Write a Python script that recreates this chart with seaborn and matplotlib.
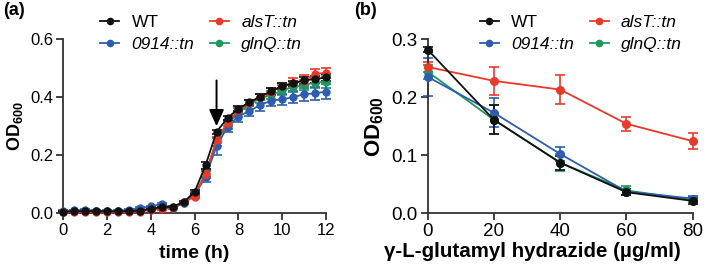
import numpy as np
import pandas as pd
import matplotlib
matplotlib.use("Agg")
import matplotlib.pyplot as plt
import seaborn as sns

# ---- data: growth curves (panel a) ----
time_h = [0, 0.5, 1, 1.5, 2, 2.5, 3, 3.5, 4, 4.5, 5, 5.5, 6, 6.5, 7, 7.5,
          8, 8.5, 9, 9.5, 10, 10.5, 11, 11.5, 12]
wt_a = [0.005, 0.006, 0.007, 0.006, 0.006, 0.006, 0.007, 0.008, 0.015, 0.020,
        0.022, 0.038, 0.073, 0.165, 0.280, 0.328, 0.360, 0.382, 0.402, 0.421,
        0.438, 0.447, 0.458, 0.462, 0.468]
wt_a_err = [0.002] * 12 + [0.006, 0.012, 0.008, 0.008, 0.008, 0.008, 0.008,
                           0.01, 0.01, 0.01, 0.012, 0.012, 0.012]
alsT_a = [0.004, 0.004, 0.003, 0.003, 0.003, 0.003, 0.004, 0.005, 0.011, 0.014,
          0.018, 0.037, 0.057, 0.134, 0.252, 0.312, 0.356, 0.379, 0.400, 0.419,
          0.438, 0.450, 0.457, 0.480, 0.484]
alsT_a_err = [0.002] * 12 + [0.006, 0.012, 0.012, 0.01, 0.01, 0.01, 0.01,
                             0.012, 0.012, 0.015, 0.018, 0.018, 0.018]
mut0914_a = [0.008, 0.009, 0.011, 0.008, 0.008, 0.008, 0.011, 0.017, 0.023,
             0.031, 0.017, 0.034, 0.063, 0.126, 0.230, 0.298, 0.333, 0.352,
             0.373, 0.388, 0.392, 0.400, 0.410, 0.413, 0.419]
mut0914_a_err = [0.003] * 12 + [0.008, 0.02, 0.03, 0.02, 0.018, 0.018, 0.02,
                                0.02, 0.02, 0.022, 0.022, 0.022, 0.025]
glnQ_a = [0.005, 0.006, 0.006, 0.006, 0.006, 0.006, 0.007, 0.008, 0.014,
          0.018, 0.020, 0.035, 0.063, 0.138, 0.247, 0.306, 0.346, 0.375,
          0.396, 0.407, 0.424, 0.434, 0.442, 0.450, 0.453]
glnQ_a_err = [0.002] * 12 + [0.006, 0.015, 0.015, 0.015, 0.015, 0.015, 0.015,
                             0.015, 0.018, 0.018, 0.018, 0.018, 0.02]

# ---- data: inhibitor dose (panel b) ----
dose = [0, 20, 40, 60, 80]
wt_b = [0.282, 0.161, 0.087, 0.036, 0.021]
wt_b_err = [0.004, 0.025, 0.012, 0.005, 0.005]
alsT_b = [0.252, 0.228, 0.213, 0.154, 0.124]
alsT_b_err = [0.008, 0.024, 0.025, 0.012, 0.014]
mut0914_b = [0.235, 0.173, 0.102, 0.037, 0.025]
mut0914_b_err = [0.033, 0.025, 0.012, 0.005, 0.004]
glnQ_b = [0.244, 0.161, 0.087, 0.039, 0.023]
glnQ_b_err = [0.012, 0.025, 0.014, 0.007, 0.004]

strains = ["WT", "0914::tn", "alsT::tn", "glnQ::tn"]
colors = {"WT": "#111111", "0914::tn": "#2e5db0",
          "alsT::tn": "#e8392a", "glnQ::tn": "#1b9a5c"}

plt.rcParams["font.family"] = ["Liberation Sans", "DejaVu Sans"]
plt.rcParams["mathtext.fontset"] = "custom"
plt.rcParams["mathtext.rm"] = "Liberation Sans"
plt.rcParams["mathtext.bf"] = "Liberation Sans:bold"
plt.rcParams["axes.edgecolor"] = "#333333"
plt.rcParams["xtick.color"] = "#333333"
plt.rcParams["ytick.color"] = "#333333"
plt.rcParams["xtick.labelcolor"] = "black"
plt.rcParams["ytick.labelcolor"] = "black"


def make_long(x, series, errs, xname):
    frames = []
    for name in strains:
        frames.append(pd.DataFrame({xname: x, "od": series[name],
                                    "err": errs[name], "strain": name}))
    return pd.concat(frames, ignore_index=True)


df_a = make_long(time_h,
                 {"WT": wt_a, "0914::tn": mut0914_a, "alsT::tn": alsT_a, "glnQ::tn": glnQ_a},
                 {"WT": wt_a_err, "0914::tn": mut0914_a_err, "alsT::tn": alsT_a_err, "glnQ::tn": glnQ_a_err},
                 "time")
df_b = make_long(dose,
                 {"WT": wt_b, "0914::tn": mut0914_b, "alsT::tn": alsT_b, "glnQ::tn": glnQ_b},
                 {"WT": wt_b_err, "0914::tn": mut0914_b_err, "alsT::tn": alsT_b_err, "glnQ::tn": glnQ_b_err},
                 "dose")

fig = plt.figure(figsize=(7.09, 2.66), dpi=100)
ax_a = fig.add_axes([0.089, 0.199, 0.371, 0.654])
ax_b = fig.add_axes([0.603, 0.199, 0.374, 0.654])

draw_order = ["glnQ::tn", "0914::tn", "alsT::tn", "WT"]


def draw_panel(ax, df, xname, msize, tick_fs, ylab_fs, leg_x):
    for name in draw_order:
        sub = df[df["strain"] == name]
        ax.errorbar(sub[xname], sub["od"], yerr=sub["err"], fmt="none",
                    ecolor=colors[name], elinewidth=1.2, capsize=3.5,
                    capthick=1.2, clip_on=False, zorder=2)
    sns.lineplot(data=df, x=xname, y="od", hue="strain", hue_order=draw_order,
                 palette=colors, marker="o", markersize=msize,
                 markeredgewidth=0, linewidth=1.3, ax=ax, legend=False,
                 clip_on=False, zorder=3)
    for spine in ["top", "right"]:
        ax.spines[spine].set_visible(False)
    ax.spines["left"].set_linewidth(1.3)
    ax.spines["bottom"].set_linewidth(1.3)
    ax.tick_params(labelsize=tick_fs, width=1.3, length=5, pad=2)
    ax.set_ylabel(r"$\mathbf{OD_{600}}$", fontsize=ylab_fs, labelpad=4)

    handles = [plt.Line2D([], [], color=colors[n], marker="o", markersize=5.5,
                          markeredgewidth=0, linewidth=1.3) for n in strains]
    leg = ax.legend(handles, strains, ncol=2, frameon=False, fontsize=12.5,
                    loc="upper center", bbox_to_anchor=(leg_x, 1.14),
                    handlelength=1.1, columnspacing=0.9, handletextpad=0.7,
                    labelspacing=0.38, borderaxespad=0, borderpad=0)
    for t in leg.get_texts()[1:]:
        t.set_style("italic")


draw_panel(ax_a, df_a, "time", 6, 12, 13, 0.525)
ax_a.set_xlim(0, 12)
ax_a.set_ylim(0, 0.6)
ax_a.set_xticks([0, 2, 4, 6, 8, 10, 12])
ax_a.set_yticks([0.0, 0.2, 0.4, 0.6])
ax_a.set_yticklabels(["0.0", "0.2", "0.4", "0.6"])
ax_a.set_xlabel("time (h)", fontsize=14, fontweight="bold", labelpad=5)
ax_a.annotate("", xy=(7, 0.29), xytext=(7, 0.467),
              arrowprops=dict(arrowstyle="-|>,head_length=1.0,head_width=0.45",
                              color="black", lw=1.4))

draw_panel(ax_b, df_b, "dose", 6.5, 13.5, 16, 0.578)
ax_b.set_xlim(0, 80)
ax_b.set_ylim(0, 0.3)
ax_b.set_xticks([0, 20, 40, 60, 80])
ax_b.set_yticks([0.0, 0.1, 0.2, 0.3])
ax_b.set_yticklabels(["0.0", "0.1", "0.2", "0.3"])
ax_b.set_xlabel("γ-L-glutamyl hydrazide (µg/ml)", fontsize=14.8,
                fontweight="bold")
ax_b.xaxis.set_label_coords(0.397, -0.168)
ax_b.xaxis.label.set_va("top")

fig.text(0.004, 0.962, "(a)", fontsize=13, fontweight="bold", va="center")
fig.text(0.500, 0.962, "(b)", fontsize=13, fontweight="bold", va="center")

fig.savefig("out.png", dpi=100)
